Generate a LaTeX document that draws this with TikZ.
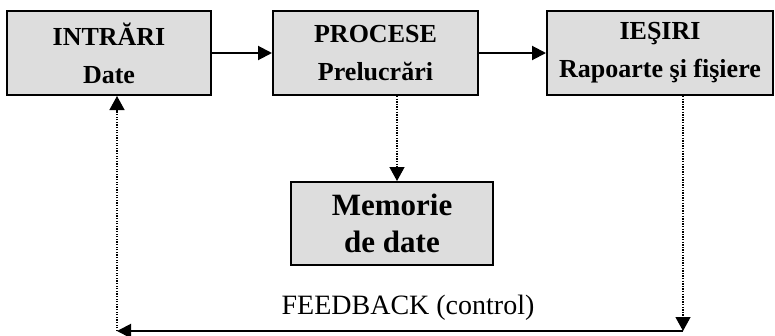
\documentclass[tikz,border=0pt]{standalone}
\usepackage{fontspec}
\setmainfont{Liberation Serif}
\usetikzlibrary{arrows.meta}
\usepackage{xcolor}

\definecolor{boxgray}{RGB}{221,221,221}

\tikzset{
	block/.style={draw=black, line width=2pt, fill=boxgray, align=center, inner sep=0pt,
		minimum height=84pt, font=\fontsize{26}{38}\selectfont\bfseries},
	flow/.style={line width=2pt, -{Triangle[length=14pt,width=14pt]}},
	dotflow/.style={line width=1.3pt, dash pattern=on 1.3pt off 1.3pt, -{Triangle[length=14pt,width=15pt]}}
}

\begin{document}
\begin{tikzpicture}[x=1pt, y=-1pt]
	\useasboundingbox (0,0) rectangle (775,335);
	
	% Top row of boxes
	\node[block, minimum width=204pt] (intrari) at (109,53) {INTRĂRI\\Date};
	\node[block, minimum width=205pt] (procese) at (375.5,53) {PROCESE\\Prelucrări};
	\node[block, minimum width=226pt] (iesiri) at (660,53) {IEŞIRI\\Rapoarte şi fişiere};
	
	% Memory box
	\node[block, minimum width=202pt, minimum height=83pt, font=\fontsize{31}{37}\selectfont\bfseries] (memorie) at (392,223.5) {Memorie\\de date};
	
	% Main flow
	\draw[flow] (intrari) -- (procese);
	\draw[flow] (procese) -- (iesiri);
	
	% Storage
	\coordinate (mem) at (397,0);
	\draw[dotflow] (procese.south -| mem) -- (memorie.north -| mem);
	
	% Feedback loop
	\coordinate (fbR) at (683,331);
	\coordinate (fbL) at (117,331);
	\draw[dotflow] (iesiri.south -| fbR) -- (fbR);
	\draw[flow] (fbR) -- (fbL);
	\draw[dotflow] (fbL) -- (intrari.south -| fbL);
	\node[font=\fontsize{28}{30}\selectfont] (feedback) at (408,308) {FEEDBACK (control)};
	
\end{tikzpicture}
\end{document}
